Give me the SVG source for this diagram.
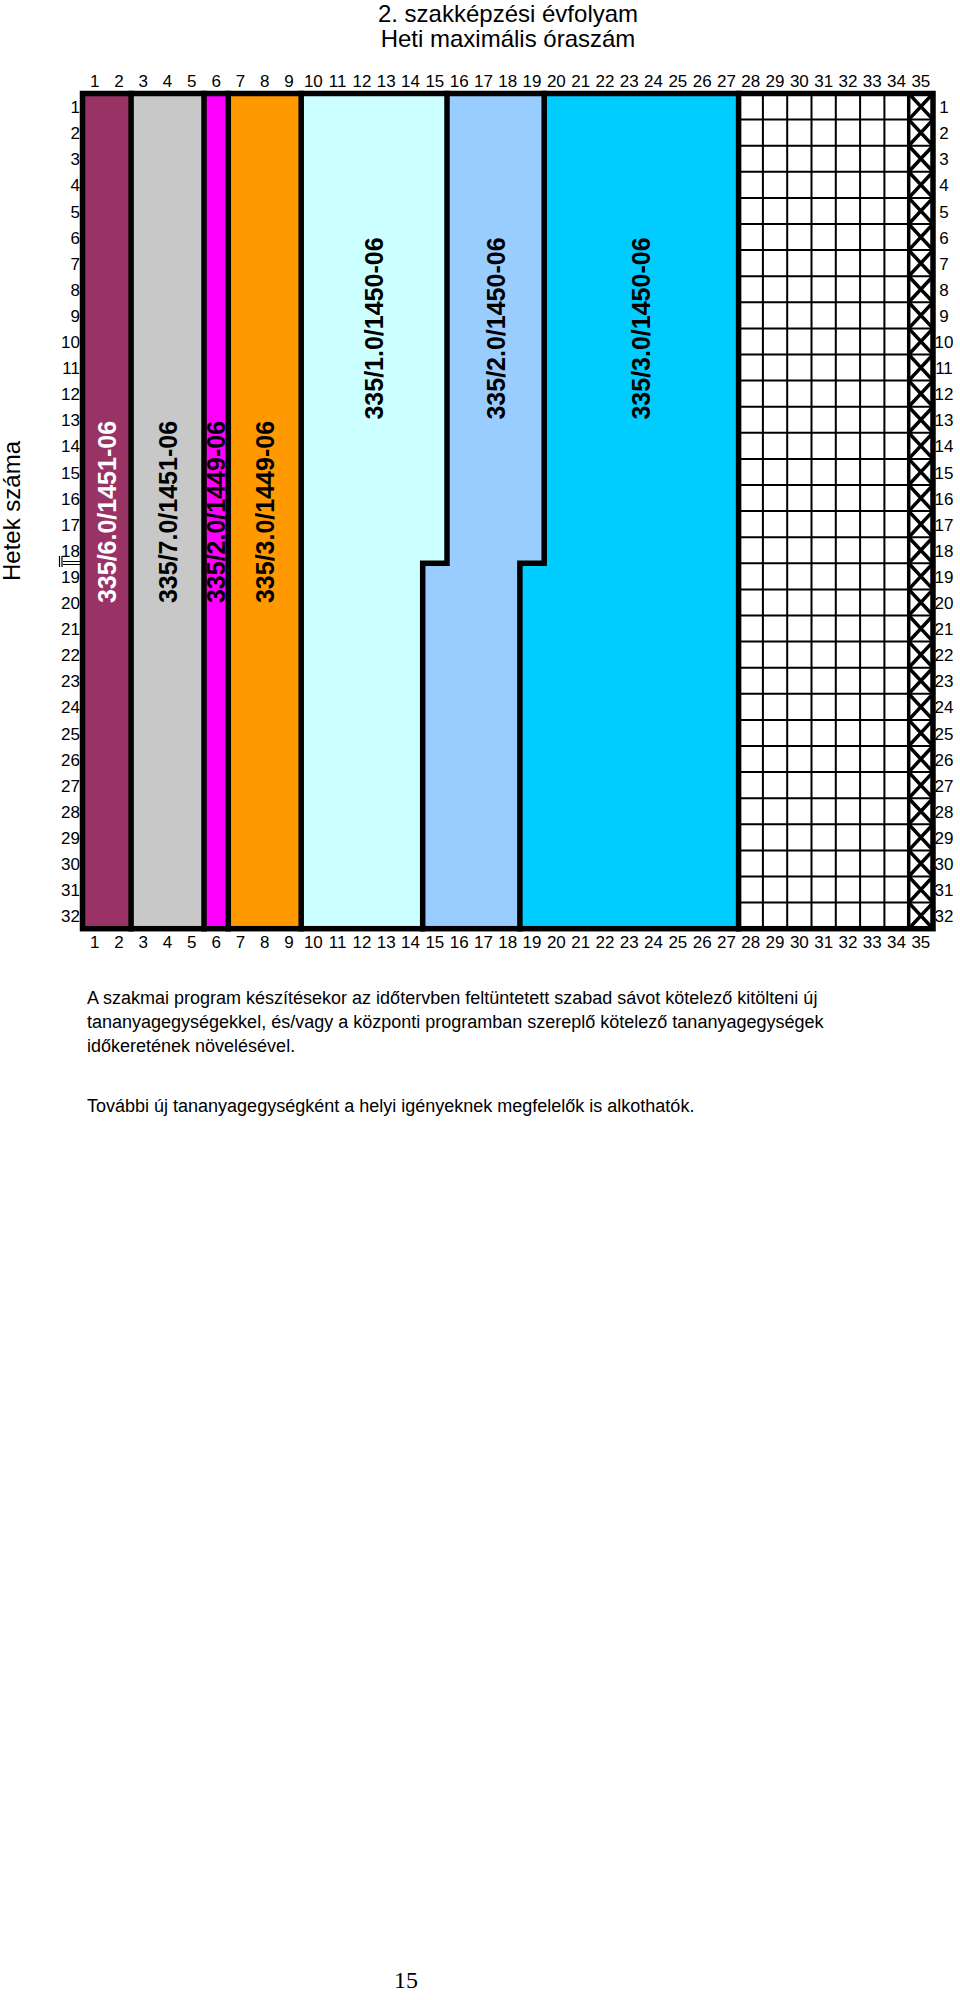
<svg xmlns="http://www.w3.org/2000/svg" width="960" height="2000" viewBox="0 0 960 2000">
<style>
.t{font-family:"Liberation Sans",Arial,sans-serif;fill:#000}
.n{font-family:"Liberation Sans",Arial,sans-serif;font-size:17px;fill:#000;text-anchor:middle}
.l{font-family:"Liberation Sans",Arial,sans-serif;font-size:17px;fill:#000;text-anchor:end}
.r{font-family:"Liberation Sans",Arial,sans-serif;font-size:17px;fill:#000;text-anchor:middle}
.v{font-family:"Liberation Sans",Arial,sans-serif;font-size:25px;font-weight:bold;text-anchor:middle}
.thick{fill:none;stroke:#000;stroke-width:5.5;stroke-linejoin:miter;stroke-linecap:square}
.thin{fill:none;stroke:#000;stroke-width:2}
.mid{fill:none;stroke:#000;stroke-width:3.5}
.body{font-family:"Liberation Sans",Arial,sans-serif;font-size:18px;fill:#000}
</style>
<rect width="960" height="2000" fill="#fff"/>
<g id="title">
<text class="t" x="508" y="22" font-size="24" text-anchor="middle">2. szakképzési évfolyam</text>
<text class="t" x="508" y="47" font-size="24" text-anchor="middle">Heti maximális óraszám</text>
</g>
<g id="axis-label">
<text class="t" font-size="24" text-anchor="middle" transform="translate(19.5,511) rotate(-90)">Hetek száma</text>
<path d="M63 561.5H80M63 564.5H80M59.5 556V567M62 556V567" stroke="#000" stroke-width="1.2" fill="none"/>
</g>
<g id="band-335-6-0-1451-06">
<rect x="82.5" y="93.5" width="48.6" height="835.2" fill="#993366"/>
<text class="v" fill="#fff" transform="translate(115.8,512) rotate(-90)">335/6.0/1451-06</text>
</g>
<g id="band-335-7-0-1451-06">
<rect x="131.1" y="93.5" width="72.9" height="835.2" fill="#C8C8C8"/>
<text class="v" fill="#000" transform="translate(176.5,512) rotate(-90)">335/7.0/1451-06</text>
</g>
<g id="band-335-2-0-1449-06">
<rect x="204" y="93.5" width="24.3" height="835.2" fill="#FF00FF"/>
<text class="v" fill="#000" transform="translate(225.2,512) rotate(-90)">335/2.0/1449-06</text>
</g>
<g id="band-335-3-0-1449-06">
<rect x="228.3" y="93.5" width="72.9" height="835.2" fill="#FF9900"/>
<text class="v" fill="#000" transform="translate(273.8,512) rotate(-90)">335/3.0/1449-06</text>
</g>
<g id="band-335-1-0-1450-06">
<path d="M301.2 93.5H447V563.3H422.7V928.7H301.2Z" fill="#CCFFFF"/>
<text class="v" fill="#000" transform="translate(383.1,328.5) rotate(-90)">335/1.0/1450-06</text>
</g>
<g id="band-335-2-0-1450-06">
<path d="M447 93.5H544.2V563.3H519.9V928.7H422.7V563.3H447Z" fill="#99CCFF"/>
<text class="v" fill="#000" transform="translate(504.6,328.5) rotate(-90)">335/2.0/1450-06</text>
</g>
<g id="band-335-3-0-1450-06">
<path d="M544.2 93.5H738.6V928.7H519.9V563.3H544.2Z" fill="#00CCFF"/>
<text class="v" fill="#000" transform="translate(650.4,328.5) rotate(-90)">335/3.0/1450-06</text>
</g>
<g id="free-grid">
<rect x="738.6" y="93.5" width="194.4" height="835.2" fill="#fff"/>
<path class="thin" d="M762.9 93.5V928.7M787.2 93.5V928.7M811.5 93.5V928.7M835.8 93.5V928.7M860.1 93.5V928.7M884.4 93.5V928.7"/>
<path class="thin" d="M738.6 119.6H933M738.6 145.7H933M738.6 171.8H933M738.6 197.9H933M738.6 224H933M738.6 250.1H933M738.6 276.2H933M738.6 302.3H933M738.6 328.4H933M738.6 354.5H933M738.6 380.6H933M738.6 406.7H933M738.6 432.8H933M738.6 458.9H933M738.6 485H933M738.6 511.1H933M738.6 537.2H933M738.6 563.3H933M738.6 589.4H933M738.6 615.5H933M738.6 641.6H933M738.6 667.7H933M738.6 693.8H933M738.6 719.9H933M738.6 746H933M738.6 772.1H933M738.6 798.2H933M738.6 824.3H933M738.6 850.4H933M738.6 876.5H933M738.6 902.6H933"/>
<path class="mid" d="M908.7 93.5V928.7"/>
<path class="mid" d="M908.7 93.5L933 119.6M933 93.5L908.7 119.6M908.7 119.6L933 145.7M933 119.6L908.7 145.7M908.7 145.7L933 171.8M933 145.7L908.7 171.8M908.7 171.8L933 197.9M933 171.8L908.7 197.9M908.7 197.9L933 224M933 197.9L908.7 224M908.7 224L933 250.1M933 224L908.7 250.1M908.7 250.1L933 276.2M933 250.1L908.7 276.2M908.7 276.2L933 302.3M933 276.2L908.7 302.3M908.7 302.3L933 328.4M933 302.3L908.7 328.4M908.7 328.4L933 354.5M933 328.4L908.7 354.5M908.7 354.5L933 380.6M933 354.5L908.7 380.6M908.7 380.6L933 406.7M933 380.6L908.7 406.7M908.7 406.7L933 432.8M933 406.7L908.7 432.8M908.7 432.8L933 458.9M933 432.8L908.7 458.9M908.7 458.9L933 485M933 458.9L908.7 485M908.7 485L933 511.1M933 485L908.7 511.1M908.7 511.1L933 537.2M933 511.1L908.7 537.2M908.7 537.2L933 563.3M933 537.2L908.7 563.3M908.7 563.3L933 589.4M933 563.3L908.7 589.4M908.7 589.4L933 615.5M933 589.4L908.7 615.5M908.7 615.5L933 641.6M933 615.5L908.7 641.6M908.7 641.6L933 667.7M933 641.6L908.7 667.7M908.7 667.7L933 693.8M933 667.7L908.7 693.8M908.7 693.8L933 719.9M933 693.8L908.7 719.9M908.7 719.9L933 746M933 719.9L908.7 746M908.7 746L933 772.1M933 746L908.7 772.1M908.7 772.1L933 798.2M933 772.1L908.7 798.2M908.7 798.2L933 824.3M933 798.2L908.7 824.3M908.7 824.3L933 850.4M933 824.3L908.7 850.4M908.7 850.4L933 876.5M933 850.4L908.7 876.5M908.7 876.5L933 902.6M933 876.5L908.7 902.6M908.7 902.6L933 928.7M933 902.6L908.7 928.7"/>
</g>
<g id="connectors">
<path class="thick" d="M131.1 93.5V928.7M204 93.5V928.7M228.3 93.5V928.7M301.2 93.5V928.7M738.6 93.5V928.7"/>
<path class="thick" d="M447 93.5V563.3H422.7V928.7M544.2 93.5V563.3H519.9V928.7"/>
<rect class="thick" x="82.5" y="93.5" width="850.5" height="835.2"/>
</g>
<g id="col-labels-top">
<text class="n" x="94.65" y="87">1</text><text class="n" x="118.95" y="87">2</text><text class="n" x="143.25" y="87">3</text><text class="n" x="167.55" y="87">4</text><text class="n" x="191.85" y="87">5</text><text class="n" x="216.15" y="87">6</text><text class="n" x="240.45" y="87">7</text><text class="n" x="264.75" y="87">8</text><text class="n" x="289.05" y="87">9</text><text class="n" x="313.35" y="87">10</text><text class="n" x="337.65" y="87">11</text><text class="n" x="361.95" y="87">12</text><text class="n" x="386.25" y="87">13</text><text class="n" x="410.55" y="87">14</text><text class="n" x="434.85" y="87">15</text><text class="n" x="459.15" y="87">16</text><text class="n" x="483.45" y="87">17</text><text class="n" x="507.75" y="87">18</text><text class="n" x="532.05" y="87">19</text><text class="n" x="556.35" y="87">20</text><text class="n" x="580.65" y="87">21</text><text class="n" x="604.95" y="87">22</text><text class="n" x="629.25" y="87">23</text><text class="n" x="653.55" y="87">24</text><text class="n" x="677.85" y="87">25</text><text class="n" x="702.15" y="87">26</text><text class="n" x="726.45" y="87">27</text><text class="n" x="750.75" y="87">28</text><text class="n" x="775.05" y="87">29</text><text class="n" x="799.35" y="87">30</text><text class="n" x="823.65" y="87">31</text><text class="n" x="847.95" y="87">32</text><text class="n" x="872.25" y="87">33</text><text class="n" x="896.55" y="87">34</text><text class="n" x="920.85" y="87">35</text>
</g>
<g id="col-labels-bottom">
<text class="n" x="94.65" y="948">1</text><text class="n" x="118.95" y="948">2</text><text class="n" x="143.25" y="948">3</text><text class="n" x="167.55" y="948">4</text><text class="n" x="191.85" y="948">5</text><text class="n" x="216.15" y="948">6</text><text class="n" x="240.45" y="948">7</text><text class="n" x="264.75" y="948">8</text><text class="n" x="289.05" y="948">9</text><text class="n" x="313.35" y="948">10</text><text class="n" x="337.65" y="948">11</text><text class="n" x="361.95" y="948">12</text><text class="n" x="386.25" y="948">13</text><text class="n" x="410.55" y="948">14</text><text class="n" x="434.85" y="948">15</text><text class="n" x="459.15" y="948">16</text><text class="n" x="483.45" y="948">17</text><text class="n" x="507.75" y="948">18</text><text class="n" x="532.05" y="948">19</text><text class="n" x="556.35" y="948">20</text><text class="n" x="580.65" y="948">21</text><text class="n" x="604.95" y="948">22</text><text class="n" x="629.25" y="948">23</text><text class="n" x="653.55" y="948">24</text><text class="n" x="677.85" y="948">25</text><text class="n" x="702.15" y="948">26</text><text class="n" x="726.45" y="948">27</text><text class="n" x="750.75" y="948">28</text><text class="n" x="775.05" y="948">29</text><text class="n" x="799.35" y="948">30</text><text class="n" x="823.65" y="948">31</text><text class="n" x="847.95" y="948">32</text><text class="n" x="872.25" y="948">33</text><text class="n" x="896.55" y="948">34</text><text class="n" x="920.85" y="948">35</text>
</g>
<g id="row-labels-left">
<text class="l" x="80" y="113.1">1</text><text class="l" x="80" y="139.2">2</text><text class="l" x="80" y="165.3">3</text><text class="l" x="80" y="191.4">4</text><text class="l" x="80" y="217.5">5</text><text class="l" x="80" y="243.6">6</text><text class="l" x="80" y="269.7">7</text><text class="l" x="80" y="295.8">8</text><text class="l" x="80" y="321.9">9</text><text class="l" x="80" y="348">10</text><text class="l" x="80" y="374.1">11</text><text class="l" x="80" y="400.2">12</text><text class="l" x="80" y="426.3">13</text><text class="l" x="80" y="452.4">14</text><text class="l" x="80" y="478.5">15</text><text class="l" x="80" y="504.6">16</text><text class="l" x="80" y="530.7">17</text><text class="l" x="80" y="556.8">18</text><text class="l" x="80" y="582.9">19</text><text class="l" x="80" y="609">20</text><text class="l" x="80" y="635.1">21</text><text class="l" x="80" y="661.2">22</text><text class="l" x="80" y="687.3">23</text><text class="l" x="80" y="713.4">24</text><text class="l" x="80" y="739.5">25</text><text class="l" x="80" y="765.6">26</text><text class="l" x="80" y="791.7">27</text><text class="l" x="80" y="817.8">28</text><text class="l" x="80" y="843.9">29</text><text class="l" x="80" y="870">30</text><text class="l" x="80" y="896.1">31</text><text class="l" x="80" y="922.2">32</text>
</g>
<g id="row-labels-right">
<text class="r" x="944" y="113.1">1</text><text class="r" x="944" y="139.2">2</text><text class="r" x="944" y="165.3">3</text><text class="r" x="944" y="191.4">4</text><text class="r" x="944" y="217.5">5</text><text class="r" x="944" y="243.6">6</text><text class="r" x="944" y="269.7">7</text><text class="r" x="944" y="295.8">8</text><text class="r" x="944" y="321.9">9</text><text class="r" x="944" y="348">10</text><text class="r" x="944" y="374.1">11</text><text class="r" x="944" y="400.2">12</text><text class="r" x="944" y="426.3">13</text><text class="r" x="944" y="452.4">14</text><text class="r" x="944" y="478.5">15</text><text class="r" x="944" y="504.6">16</text><text class="r" x="944" y="530.7">17</text><text class="r" x="944" y="556.8">18</text><text class="r" x="944" y="582.9">19</text><text class="r" x="944" y="609">20</text><text class="r" x="944" y="635.1">21</text><text class="r" x="944" y="661.2">22</text><text class="r" x="944" y="687.3">23</text><text class="r" x="944" y="713.4">24</text><text class="r" x="944" y="739.5">25</text><text class="r" x="944" y="765.6">26</text><text class="r" x="944" y="791.7">27</text><text class="r" x="944" y="817.8">28</text><text class="r" x="944" y="843.9">29</text><text class="r" x="944" y="870">30</text><text class="r" x="944" y="896.1">31</text><text class="r" x="944" y="922.2">32</text>
</g>
<g id="notes">
<text class="body" x="87" y="1004">A szakmai program készítésekor az időtervben feltüntetett szabad sávot kötelező kitölteni új</text>
<text class="body" x="87" y="1028">tananyagegységekkel, és/vagy a központi programban szereplő kötelező tananyagegységek</text>
<text class="body" x="87" y="1052">időkeretének növelésével.</text>
<text class="body" x="87" y="1112">További új tananyagegységként a helyi igényeknek megfelelők is alkothatók.</text>
</g>
<g id="page-number">
<text x="406" y="1988" font-family="'Liberation Serif','Times New Roman',serif" font-size="24" text-anchor="middle" fill="#000">15</text>
</g>
</svg>
